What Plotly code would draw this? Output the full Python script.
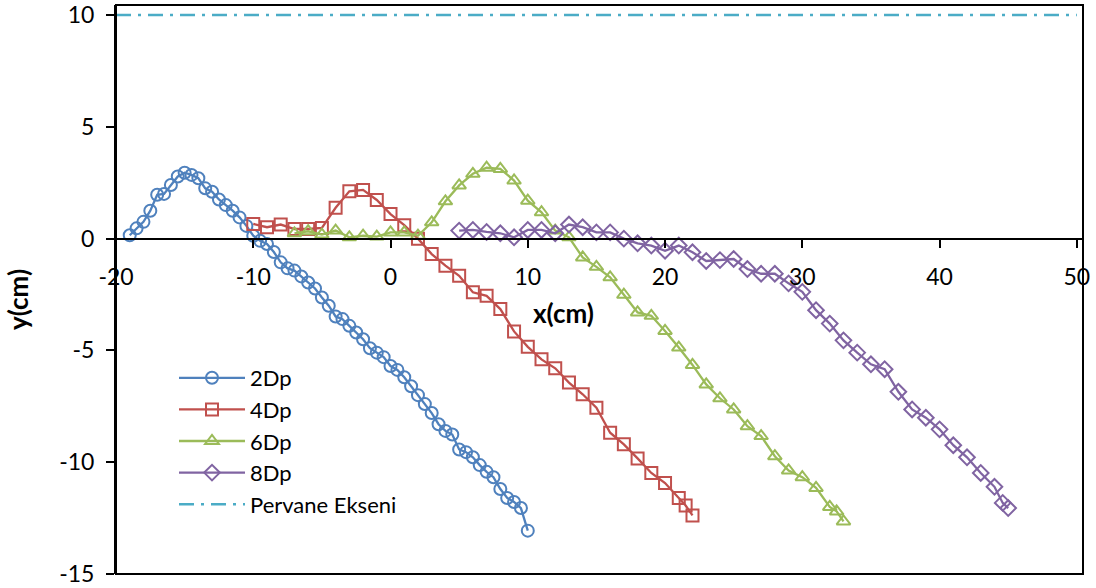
import plotly.graph_objects as go

# ---- data ----
x_2dp = [-19, -18.5, -18, -17.5, -17, -16.5, -16, -15.5, -15, -14.5, -14, -13.5, -13, -12.5,
         -12, -11.5, -11, -10.5, -10, -9.5, -9, -8.5, -8, -7.5, -7, -6.5, -6, -5.5, -5, -4.5,
         -4, -3.5, -3, -2.5, -2, -1.5, -1, -0.5, 0, 0.5, 1, 1.5, 2, 2.5, 3, 3.5, 4, 4.5, 5,
         5.5, 6, 6.5, 7, 7.5, 8, 8.5, 9, 9.5, 10]
y_2dp = [0.15, 0.46, 0.75, 1.25, 1.96, 2.0, 2.4, 2.78, 2.95, 2.85, 2.7, 2.25, 2.1, 1.75,
         1.5, 1.25, 0.95, 0.57, 0.13, -0.1, -0.24, -0.6, -1.06, -1.33, -1.43, -1.69, -1.96, -2.23, -2.63, -3.0,
         -3.48, -3.6, -3.9, -4.2, -4.5, -4.9, -5.1, -5.3, -5.7, -5.87, -6.2, -6.6, -7.0, -7.4, -7.8, -8.3, -8.6, -8.76, -9.43,
         -9.55, -9.78, -10.13, -10.43, -10.67, -11.2, -11.6, -11.78, -12.05, -13.06]

x_4dp = [-10, -9, -8, -7, -6, -5, -4, -3, -2, -1, 0, 1, 2, 3, 4, 5, 6, 7, 8, 9, 10, 11, 12,
         13, 14, 15, 16, 17, 18, 19, 20, 21, 21.5, 22]
y_4dp = [0.66, 0.51, 0.63, 0.43, 0.43, 0.48, 1.38, 2.12, 2.18, 1.73, 1.1, 0.6, 0.0, -0.69,
         -1.21, -1.66, -2.4, -2.56, -3.15, -4.15, -4.84, -5.4, -5.8, -6.44, -6.96, -7.56, -8.68,
         -9.2, -9.83, -10.48, -10.93, -11.6, -11.94, -12.38]

x_6dp = [-7, -6, -5, -4, -3, -2, -1, 0, 1, 2, 3, 4, 5, 6, 7, 8, 9, 10, 11, 12, 13, 14, 15,
         16, 17, 18, 19, 20, 21, 22, 23, 24, 25, 26, 27, 28, 29, 30, 31, 32, 32.5, 33]
y_6dp = [0.24, 0.33, 0.18, 0.36, 0.06, 0.13, 0.09, 0.28, 0.28, 0.13, 0.73, 1.67, 2.38, 2.9,
         3.17, 3.12, 2.6, 1.7, 1.18, 0.36, 0.06, -0.84, -1.26, -1.73, -2.51, -3.3, -3.45, -4.13,
         -4.87, -5.65, -6.52, -7.14, -7.64, -8.39, -8.83, -9.73, -10.37, -10.67, -11.15, -12.0,
         -12.2, -12.65]

x_8dp = [5, 6, 7, 8, 9, 10, 11, 12, 13, 14, 15, 16, 17, 18, 19, 20, 21, 22, 23, 24, 25, 26,
         27, 28, 29, 30, 31, 32, 33, 34, 35, 36, 37, 38, 39, 40, 41, 42, 43, 44, 44.6, 45]
y_8dp = [0.36, 0.39, 0.3, 0.24, 0.06, 0.39, 0.39, 0.24, 0.63, 0.51, 0.28, 0.28, 0.0, -0.21,
         -0.31, -0.54, -0.31, -0.61, -1.0, -0.96, -0.91, -1.36, -1.57, -1.57, -2.0, -2.38, -3.2,
         -3.8, -4.55, -5.1, -5.62, -5.84, -6.85, -7.64, -8.01, -8.53, -9.24, -9.78, -10.48,
         -11.1, -11.82, -12.05]

x_axis_line = [-20, 50]
y_axis_line = [10, 10]

x_ticks = [-20, -10, 0, 10, 20, 30, 40, 50]
y_ticks = [-15, -10, -5, 0, 5, 10]

FONT = "Lato"
fig = go.Figure()

series = [
    ("2Dp", x_2dp, y_2dp, "#4F81BD", "circle-open"),
    ("4Dp", x_4dp, y_4dp, "#C0504D", "square-open"),
    ("6Dp", x_6dp, y_6dp, "#9BBB59", "triangle-up-open"),
    ("8Dp", x_8dp, y_8dp, "#8064A2", "diamond-open"),
]
for name, xs, ys, col, sym in series:
    fig.add_trace(go.Scatter(
        x=xs, y=ys, name=name, mode="lines+markers",
        line=dict(color=col, width=2.3),
        marker=dict(symbol=sym, size=12, color=col, line=dict(width=2, color=col)),
    ))

fig.add_trace(go.Scatter(
    x=x_axis_line, y=y_axis_line, name="Pervane Ekseni", mode="lines",
    line=dict(color="#4BACC6", width=2.5, dash="15px,7px,3px,7px"),
))

ymin, ymax = -15, 10.45
xmin, xmax = -20, 50.45
zero_pos = (0 - ymin) / (ymax - ymin)

L, R, T, B = 116, 1083, 5, 574
PW, PH = R - L, B - T

fig.update_layout(
    width=1096, height=588,
    margin=dict(l=L, r=1096 - R, t=T, b=588 - B, autoexpand=False),
    paper_bgcolor="white", plot_bgcolor="white",
    font=dict(family=FONT, size=22, color="black"),
    showlegend=True,
    legend=dict(x=(174 - L) / PW, y=(B - 357) / PH, xanchor="left", yanchor="top",
                bgcolor="rgba(0,0,0,0)", font=dict(size=22, family=FONT),
                tracegroupgap=0, itemwidth=66),
    xaxis=dict(range=[xmin, xmax], tickvals=x_ticks, ticktext=[str(v) for v in x_ticks],
               showgrid=False, zeroline=False, showline=True, linecolor="black", linewidth=2,
               ticks="outside", ticklen=8, tickwidth=2, tickcolor="black",
               anchor="free", position=zero_pos, ticklabelstandoff=10, automargin=False,
               tickfont=dict(size=23, family=FONT)),
    yaxis=dict(range=[ymin, ymax], tickvals=y_ticks, ticktext=[str(v) for v in y_ticks],
               showgrid=False, zeroline=False, showline=True, linecolor="black", linewidth=2,
               ticks="outside", ticklen=8, tickwidth=2, tickcolor="black", automargin=False,
               ticklabelstandoff=7, tickfont=dict(size=23, family=FONT)),
    shapes=[dict(type="rect", xref="paper", yref="paper", x0=0, x1=1, y0=0, y1=1,
                 line=dict(color="black", width=2), fillcolor="rgba(0,0,0,0)", layer="above")],
    annotations=[
        dict(text="<b>x(cm)</b>", xref="paper", yref="paper",
             x=(563 - L) / PW, y=(B - 313) / PH, showarrow=False,
             font=dict(size=26, family=FONT), xanchor="center", yanchor="middle"),
        dict(text="<b>y(cm)</b>", xref="paper", yref="paper",
             x=(18 - L) / PW, y=(B - 300) / PH, showarrow=False, textangle=-90,
             font=dict(size=26, family=FONT), xanchor="center", yanchor="middle"),
    ],
)

fig.write_html("out.html", config={"displayModeBar": False},
               post_script="document.body.style.margin='0px';")
